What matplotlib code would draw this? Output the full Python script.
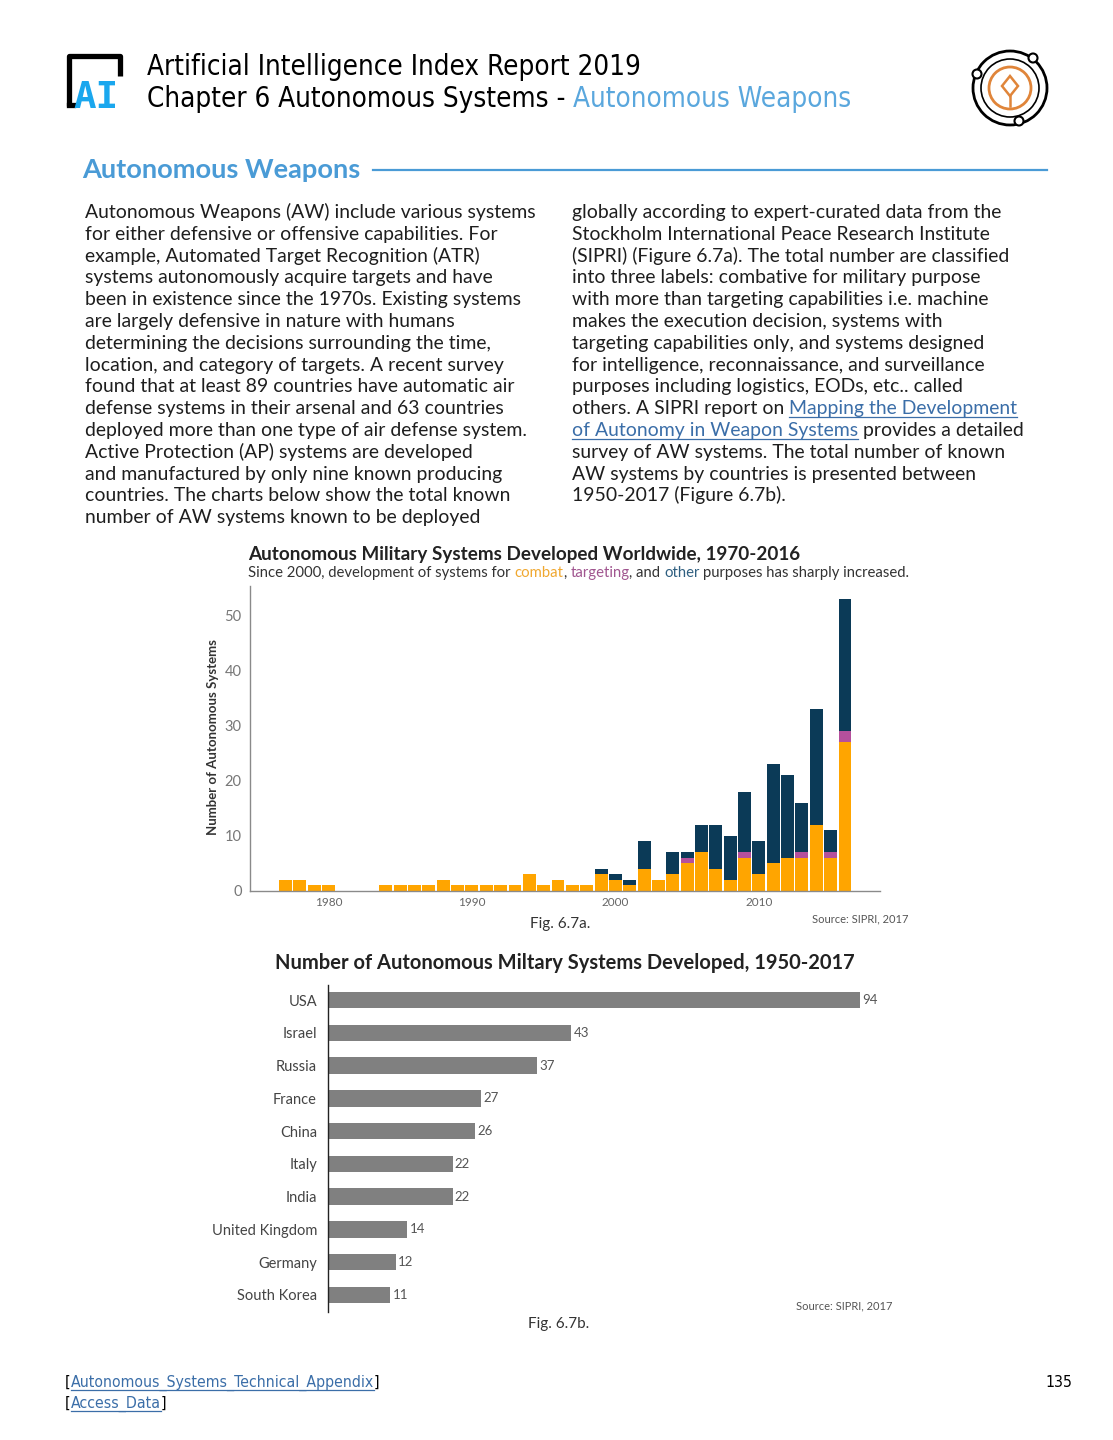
import matplotlib
matplotlib.use('Agg')
import matplotlib.pyplot as plt
import numpy as np
from matplotlib.patches import Circle, Polygon

# ---------------- data ----------------
years = list(range(1977, 2017))
combat = [2, 2, 1, 1, 0, 0, 0, 1, 1, 1, 1, 2, 1, 1, 1, 1, 1, 3, 1, 2, 1,
          1, 3, 2, 1, 4, 2, 3, 5, 7, 4, 2, 6, 3, 5, 6, 6, 12, 6, 27]
targeting = [0] * 28 + [1, 0, 0, 0, 1, 0, 0, 0, 1, 0, 1, 2]
other = [0] * 22 + [1, 1, 1, 5, 0, 4, 1, 5, 8, 8, 11, 6, 18, 15, 9, 21, 4, 24]
y_ticks1 = [0, 10, 20, 30, 40, 50]
x_ticks1 = [1980, 1990, 2000, 2010]

countries = ["USA", "Israel", "Russia", "France", "China", "Italy", "India",
             "United Kingdom", "Germany", "South Korea"]
counts = [94, 43, 37, 27, 26, 22, 22, 14, 12, 11]

left_col = [
    "Autonomous Weapons (AW) include various systems",
    "for either defensive or offensive capabilities. For",
    "example, Automated Target Recognition (ATR)",
    "systems autonomously acquire targets and have",
    "been in existence since the 1970s. Existing systems",
    "are largely defensive in nature with humans",
    "determining the decisions surrounding the time,",
    "location, and category of targets. A recent survey",
    "found that at least 89 countries have automatic air",
    "defense systems in their arsenal and 63 countries",
    "deployed more than one type of air defense system.",
    "Active Protection (AP) systems are developed",
    "and manufactured by only nine known producing",
    "countries. The charts below show the total known",
    "number of AW systems known to be deployed",
]
right_col = [
    "globally according to expert-curated data from the",
    "Stockholm International Peace Research Institute",
    "(SIPRI) (Figure 6.7a). The total number are classified",
    "into three labels: combative for military purpose",
    "with more than targeting capabilities i.e. machine",
    "makes the execution decision, systems with",
    "targeting capabilities only, and systems designed",
    "for intelligence, reconnaissance, and surveillance",
    "purposes including logistics, EODs, etc.. called",
    None,
    None,
    "survey of AW systems. The total number of known",
    "AW systems by countries is presented between",
    "1950-2017 (Figure 6.7b).",
]

ORANGE = '#FFA500'
PINK = '#B5509C'
NAVY = '#0B3A57'
BLUE = '#4A9BD6'
LINK = '#3B6EA8'
TXT = '#1e1e1e'

W, H = 1113, 1440
fig = plt.figure(figsize=(W / 100, H / 100), dpi=100)
bg = fig.add_axes([0, 0, 1, 1])
bg.set_xlim(0, W)
bg.set_ylim(H, 0)
bg.axis('off')
renderer = fig.canvas.get_renderer()

BODY = ['Lato', 'DejaVu Sans']
NARROW = dict(family=['DejaVu Sans'], fontstretch='condensed')


def width(s, **kw):
    t = bg.text(0, 0, s, **kw)
    w = t.get_window_extent(renderer).width
    t.remove()
    return w


def fit(s, target, **kw):
    return 12 * target / width(s, fontsize=12, **kw)


def segs(x, y, parts, zorder=5, **kw):
    full = ''
    for txt, col, ul in parts:
        full += txt
        st = txt.strip()
        if not st:
            continue
        right = x + width(full.rstrip(), **kw)
        left = right - width(st, **kw)
        bg.text(left, y, st, color=col, va='baseline', ha='left',
                zorder=zorder, **kw)
        if ul:
            bg.plot([left, right], [y + 2.5, y + 2.5], color=col, lw=0.9)


# ---------------- header ----------------
h1 = "Artificial Intelligence Index Report 2019"
h2 = "Chapter 6 Autonomous Systems - Autonomous Weapons"
hs = 0.5 * (fit(h1, 500, **NARROW) + fit(h2, 691, **NARROW))
bg.text(147, 75, h1, fontsize=hs, color='black', va='baseline', **NARROW)
segs(147, 107, [("Chapter 6 Autonomous Systems - ", 'black', False),
                ("Autonomous Weapons", '#5AA7DD', False)],
     fontsize=hs, **NARROW)

# logo
bg.plot([68.5, 68.5, 119.5, 119.5], [106, 55.5, 55.5, 76], color='black',
        lw=3.8, solid_joinstyle='round', solid_capstyle='butt')
bg.plot([68.5, 73], [104.5, 104.5], color='black', lw=3.8)
bg.text(73, 108, "AI", fontsize=27, fontweight='bold', color='#1AA7EE',
        family='DejaVu Sans Mono', va='baseline')

# icon
cx, cy = 1010, 88
bg.add_patch(Circle((cx, cy), 37, fill=False, ec='black', lw=2))
bg.add_patch(Circle((cx, cy), 29, fill=False, ec='black', lw=1.2))
bg.add_patch(Circle((cx, cy), 21, fill=False, ec='#E0853A', lw=2))
bg.add_patch(Polygon([(cx, 76), (cx + 8, 86), (cx, 96), (cx - 8, 86)],
                     closed=True, fill=False, ec='#E0853A', lw=1.8))
bg.plot([cx, cx], [96, 106], color='#E0853A', lw=1.8)
for px, py in [(1033, 58), (977, 74), (1019, 121)]:
    bg.add_patch(Circle((px, py), 4.5, fc='white', ec='black', lw=1.5, zorder=3))

# section heading
shs = fit("Autonomous Weapons", 278, family=BODY, fontweight='bold')
bg.text(82, 178, "Autonomous Weapons", fontsize=shs, family=BODY,
        fontweight='bold', color=BLUE, va='baseline')
bg.plot([373, 1047], [170, 170], color=BLUE, lw=1.6)

# ---------------- body text ----------------
bs = fit(left_col[0], 448, family=BODY)
lh = 21.8
for i, line in enumerate(left_col):
    bg.text(85, 218 + i * lh, line, fontsize=bs, family=BODY, color=TXT,
            va='baseline')
for i, line in enumerate(right_col):
    if line is None:
        continue
    bg.text(572, 218 + i * lh, line, fontsize=bs, family=BODY, color=TXT,
            va='baseline')
segs(572, 218 + 9 * lh, [("others. A SIPRI report on ", TXT, False),
                         ("Mapping the Development", LINK, True)],
     fontsize=bs, family=BODY)
segs(572, 218 + 10 * lh, [("of Autonomy in Weapon Systems", LINK, True),
                          (" provides a detailed", TXT, False)],
     fontsize=bs, family=BODY)

# ---------------- chart 1 ----------------
t1 = "Autonomous Military Systems Developed Worldwide, 1970-2016"
ts = fit(t1, 549, family=BODY, fontweight='bold')
bg.text(248, 560, t1, fontsize=ts, family=BODY, fontweight='bold',
        color='#222', va='baseline')
sub = [("Since 2000, development of systems for ", '#333', False),
       ("combat", '#F0A830', False), (", ", '#333', False),
       ("targeting", '#A0558F', False), (", and ", '#333', False),
       ("other", '#2F5F80', False),
       (" purposes has sharply increased.", '#333', False)]
ss = fit(''.join(p[0] for p in sub), 657, family=BODY)
segs(248, 577, sub, fontsize=ss, family=BODY)

ax1 = fig.add_axes([250 / W, 1 - 891 / H, (880 - 250) / W, (891 - 586) / H])
ax1.patch.set_visible(False)
c = np.array(combat)
t = np.array(targeting)
o = np.array(other)
ax1.bar(years, c, width=0.9, color=ORANGE, linewidth=0)
ax1.bar(years, t, width=0.9, bottom=c, color=PINK, linewidth=0)
ax1.bar(years, o, width=0.9, bottom=c + t, color=NAVY, linewidth=0)
ax1.set_xlim(1974.53, 2018.44)
ax1.set_ylim(0, 55.45)
ax1.set_yticks(y_ticks1)
ax1.set_xticks(x_ticks1)
for s in ['top', 'right']:
    ax1.spines[s].set_visible(False)
for s in ['left', 'bottom']:
    ax1.spines[s].set_color('#8a8a8a')
    ax1.spines[s].set_linewidth(1)
ax1.tick_params(axis='y', length=0, labelsize=10.5, labelcolor='#777', pad=6)
ax1.tick_params(axis='x', length=0, labelsize=8.5, labelcolor='#666', pad=4)
for lab in ax1.get_xticklabels() + ax1.get_yticklabels():
    lab.set_family(BODY)
bg.text(213, 737, "Number of Autonomous Systems", rotation=90, fontsize=9.5,
        fontweight='bold', family=BODY, color='#333', ha='center', va='center')
bg.text(560, 924, "Fig. 6.7a.", fontsize=11, family=BODY, color='#333',
        ha='center', va='center')
bg.text(908, 919, "Source: SIPRI, 2017", fontsize=8, family=BODY, color='#555',
        ha='right', va='center')

# ---------------- chart 2 ----------------
t2 = "Number of Autonomous Miltary Systems Developed, 1950-2017"
t2s = fit(t2, 578, family=BODY, fontweight='bold')
bg.text(275, 969, t2, fontsize=t2s, family=BODY, fontweight='bold',
        color='#222', va='baseline')

ax2 = fig.add_axes([328 / W, 1 - 1312 / H, (890 - 328) / W, (1312 - 985) / H])
ax2.patch.set_visible(False)
ypos = np.arange(len(countries))
ax2.barh(ypos, counts, height=0.5, color='#808080', linewidth=0)
ax2.set_ylim(9.52, -0.46)
ax2.set_xlim(0, (890 - 328) / 5.66)
ax2.set_yticks(ypos)
ax2.set_yticklabels(countries)
ax2.set_xticks([])
for s in ['top', 'right', 'bottom']:
    ax2.spines[s].set_visible(False)
ax2.spines['left'].set_color('#222')
ax2.spines['left'].set_linewidth(1)
ax2.tick_params(axis='y', length=0, labelsize=10.5, labelcolor='#444', pad=8)
for lab in ax2.get_yticklabels():
    lab.set_family(BODY)
for yv, v in zip(ypos, counts):
    ax2.text(v + 0.4, yv, str(v), va='center', ha='left', fontsize=9.5,
             family=BODY, color='#555')
fig.text(893 / W, 1 - 1306 / H, "Source: SIPRI, 2017", fontsize=8, family=BODY,
         color='#555', ha='right', va='center')
bg.text(559, 1324, "Fig. 6.7b.", fontsize=11, family=BODY, color='#333',
        ha='center', va='center')

# ---------------- footer ----------------
fs = fit("[Autonomous_Systems_Technical_Appendix]", 315, **NARROW)
segs(65, 1387, [("[", 'black', False),
                ("Autonomous_Systems_Technical_Appendix", LINK, True),
                ("]", 'black', False)], fontsize=fs, **NARROW)
segs(65, 1408, [("[", 'black', False), ("Access_Data", LINK, True),
                ("]", 'black', False)], fontsize=fs, **NARROW)
bg.text(1072, 1387, "135", fontsize=fs, color='black',
        ha='right', va='baseline', **NARROW)

fig.savefig('out.png', dpi=100, facecolor='white')
